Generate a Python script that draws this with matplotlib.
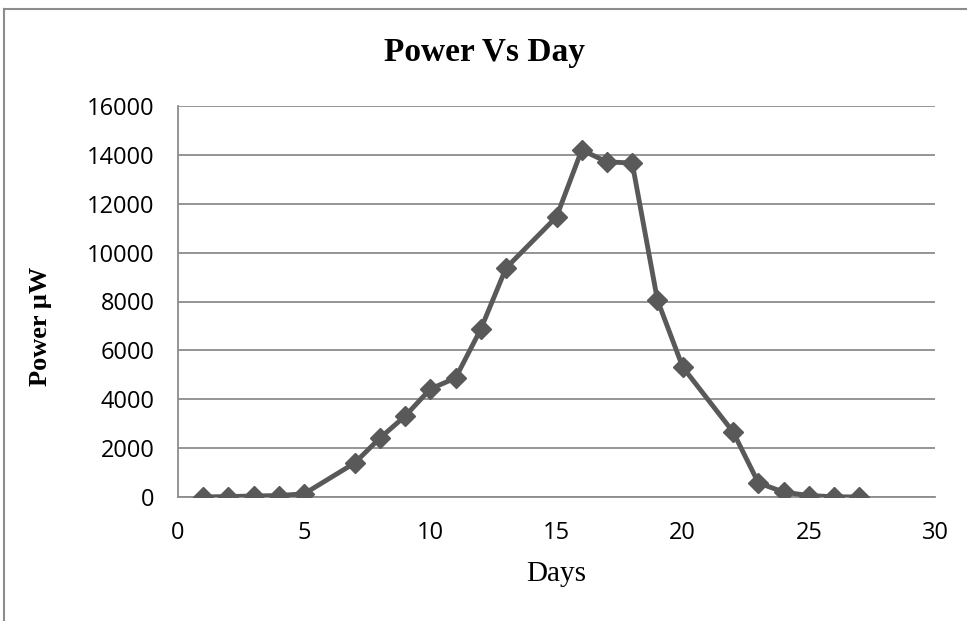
import matplotlib
matplotlib.use("Agg")
import matplotlib.pyplot as plt
from matplotlib.lines import Line2D

days = [1, 2, 3, 4, 5, 7, 8, 9, 10, 11, 12, 13, 15, 16, 17, 18, 19, 20, 22, 23, 24, 25, 26, 27]
power = [0, 20, 40, 60, 130, 1390, 2410, 3310, 4420, 4870, 6870, 9370, 11460, 14200,
         13710, 13670, 8060, 5320, 2660, 580, 200, 60, 10, 0]

W, H = 967, 621
fig = plt.figure(figsize=(W / 100, H / 100), dpi=100)
ax = fig.add_axes([178 / W, 1 - 497 / H, (935 - 178) / W, (497 - 106) / H])

grey = "#8c8c8c"
ax.plot(days, power, color="#595959", lw=3.5, marker="D", ms=10, mew=1, zorder=3)

ax.set_xlim(0, 30)
ax.set_ylim(0, 16000)
ax.set_xticks(range(0, 31, 5))
ax.set_yticks(range(0, 16001, 2000))
ax.yaxis.grid(True, color=grey, lw=1.3)
ax.set_axisbelow(True)
for s in ["top", "right"]:
    ax.spines[s].set_visible(False)
for s in ["left", "bottom"]:
    ax.spines[s].set_color(grey)
    ax.spines[s].set_linewidth(1.3)
ax.tick_params(length=0, labelsize=17, pad=17)
for lab in ax.get_xticklabels() + ax.get_yticklabels():
    lab.set_fontfamily("Open Sans")

fig.text(485 / W, 1 - 52 / H, "Power Vs Day", ha="center", va="center",
         fontsize=24, fontweight="bold", family="Liberation Serif")
fig.text(556 / W, 1 - 574 / H, "Days", ha="center", va="center",
         fontsize=21, family="Liberation Serif")
fig.text(40 / W, 1 - 326 / H, "Power µW", ha="center", va="center", rotation=90,
         fontsize=19, fontweight="bold", family="Liberation Serif")

# outer chart frame (only top and left edges are visible)
fig.add_artist(Line2D([4 / W, 1], [1 - 9 / H, 1 - 9 / H], color=grey, lw=1.5))
fig.add_artist(Line2D([4 / W, 4 / W], [0, 1 - 9 / H], color=grey, lw=1.5))

fig.savefig("out.png", dpi=100)
